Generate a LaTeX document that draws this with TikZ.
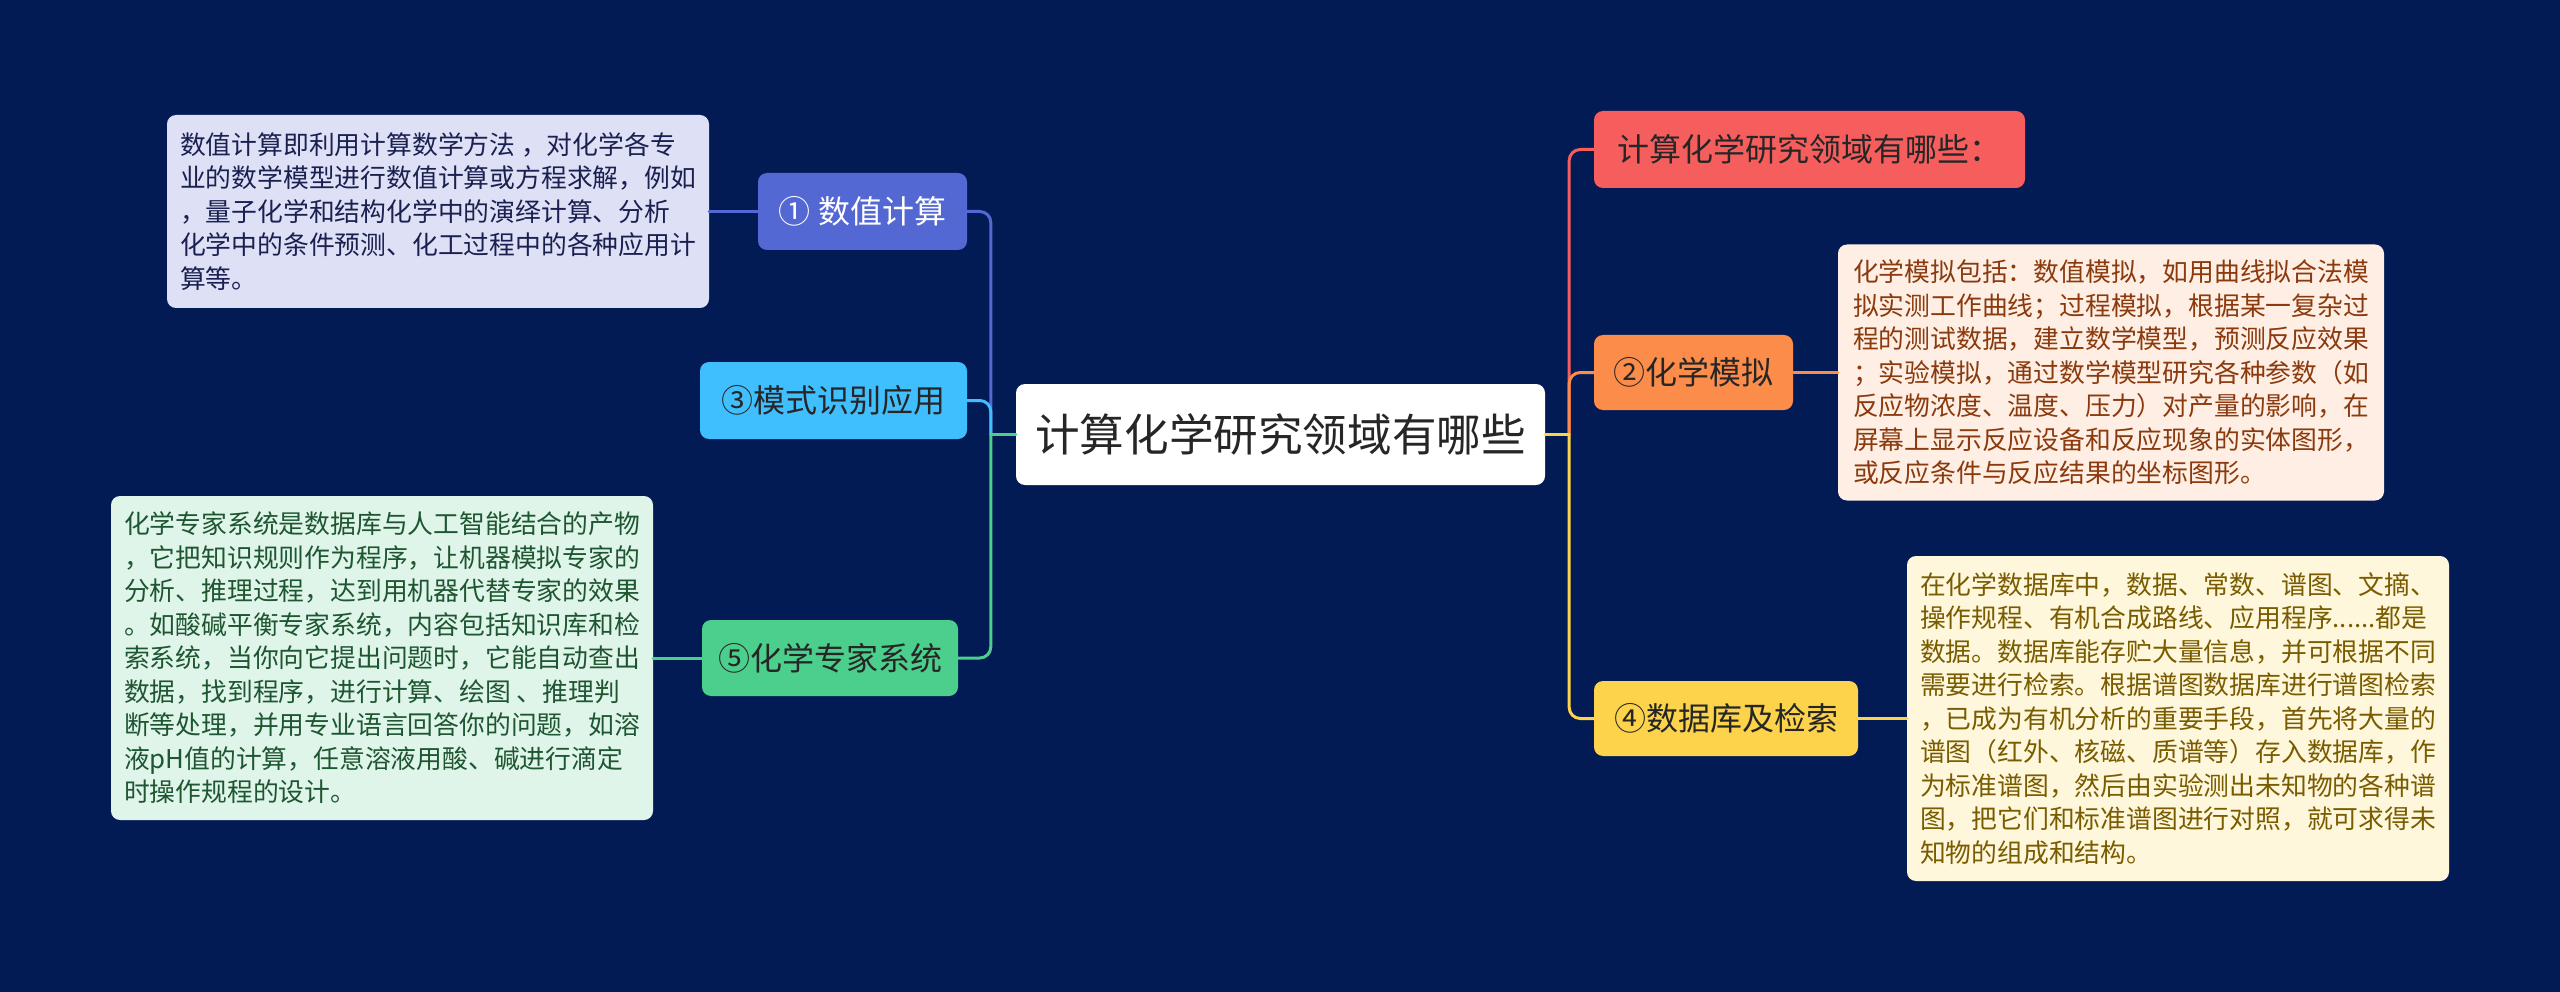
\documentclass[tikz,border=0pt]{standalone}
\usepackage{fontspec}
\setmainfont{Noto Sans CJK SC}
\definecolor{bg}{HTML}{021B55}
\definecolor{cblue}{HTML}{5468D4}
\definecolor{cblueL}{HTML}{DEE1F6}
\definecolor{cblueT}{HTML}{1A2050}
\definecolor{csky}{HTML}{40BFFF}
\definecolor{cgreen}{HTML}{4CCE8C}
\definecolor{cgreenL}{HTML}{E0F5EA}
\definecolor{cgreenT}{HTML}{1E5631}
\definecolor{cred}{HTML}{F65E5E}
\definecolor{corange}{HTML}{FC8C4A}
\definecolor{corangeL}{HTML}{FEEEE3}
\definecolor{corangeT}{HTML}{8B3A0E}
\definecolor{cyellow}{HTML}{FCD34B}
\definecolor{cyellowL}{HTML}{FEF7DB}
\definecolor{cyellowT}{HTML}{7A5C00}
\definecolor{darktext}{HTML}{262626}
\tikzset{
  box/.style={rounded corners=9pt, inner sep=0pt, align=left},
  topic/.style={box, font=\fontsize{32}{38}\selectfont, text=darktext},
  desc/.style={box, font=\fontsize{25.8}{33.5}\selectfont},
  link/.style={line width=3pt, rounded corners=11pt, line cap=round},
}
\begin{document}
\begin{tikzpicture}[x=1pt,y=-1pt]
\fill[bg] (0,0) rectangle (2560,992);
\useasboundingbox (0,0) rectangle (2560,992);

% central
\node[box, fill=white, text=darktext, font=\fontsize{44.6}{50}\selectfont,
  minimum width=529pt, minimum height=101pt] (c) at (1280.5,434.5) {计算化学研究领域有哪些};

% left topics
\node[topic, fill=cblue, text=white, minimum width=209pt, minimum height=77pt] (n1) at (862.5,211.5) {① 数值计算};
\node[topic, fill=csky, minimum width=267pt, minimum height=77pt] (n3) at (833.5,400.5) {③模式识别应用};
\node[topic, fill=cgreen, minimum width=256pt, minimum height=76pt] (n5) at (830,658) {⑤化学专家系统};

% right topics
\node[topic, fill=cred, minimum width=431pt, minimum height=77pt] (r0) at (1809.5,149.5) {计算化学研究领域有哪些：};
\node[topic, fill=corange, minimum width=199pt, minimum height=75pt] (n2) at (1693.5,372.5) {②化学模拟};
\node[topic, fill=cyellow, minimum width=264pt, minimum height=75pt] (n4) at (1726,718.5) {④数据库及检索};

% descriptions
\node[desc, fill=cblueL, text=cblueT, minimum width=542pt, minimum height=193pt] (d1) at (438,211.5) {数值计算即利用计算数学方法 ，对化学各专\\业的数学模型进行数值计算或方程求解，例如\\，量子化学和结构化学中的演绎计算、分析\\化学中的条件预测、化工过程中的各种应用计\\算等。};

\node[desc, fill=cgreenL, text=cgreenT, minimum width=542pt, minimum height=324pt] (d5) at (382,658) {化学专家系统是数据库与人工智能结合的产物\\，它把知识规则作为程序，让机器模拟专家的\\分析、推理过程，达到用机器代替专家的效果\\。如酸碱平衡专家系统，内容包括知识库和检\\索系统，当你向它提出问题时，它能自动查出\\数据，找到程序，进行计算、绘图 、推理判\\断等处理，并用专业语言回答你的问题，如溶\\液pH值的计算，任意溶液用酸、碱进行滴定\\时操作规程的设计。};

\node[desc, fill=corangeL, text=corangeT, minimum width=546pt, minimum height=256pt] (d2) at (2111,372.5) {化学模拟包括：数值模拟，如用曲线拟合法模\\拟实测工作曲线；过程模拟，根据某一复杂过\\程的测试数据，建立数学模型，预测反应效果\\；实验模拟，通过数学模型研究各种参数（如\\反应物浓度、温度、压力）对产量的影响，在\\屏幕上显示反应设备和反应现象的实体图形，\\或反应条件与反应结果的坐标图形。};

\node[desc, fill=cyellowL, text=cyellowT, minimum width=542pt, minimum height=325pt] (d4) at (2178,718.5) {在化学数据库中，数据、常数、谱图、文摘、\\操作规程、有机合成路线、应用程序......都是\\数据。数据库能存贮大量信息，并可根据不同\\需要进行检索。根据谱图数据库进行谱图检索\\，已成为有机分析的重要手段，首先将大量的\\谱图（红外、核磁、质谱等）存入数据库，作\\为标准谱图，然后由实验测出未知物的各种谱\\图，把它们和标准谱图进行对照，就可求得未\\知物的组成和结构。};

% junction points beside the central node
\coordinate (jl) at ([xshift=-25pt]c.west);
\coordinate (jr) at ([xshift=24pt]c.east);

% connectors: central to topics
\draw[link, cblue] (jl) |- (n1.east);
\draw[link, csky] (jl) |- (n3.east);
\draw[link, cgreen] (jl) |- (n5.east);
\draw[link, cgreen, sharp corners] (c.west) -- (jl);
\draw[link, cred] (jr) |- (r0.west);
\draw[link, corange] (jr) |- (n2.west);
\draw[link, cyellow] (jr) |- (n4.west);
\draw[link, cyellow, sharp corners] (c.east) -- (jr);

% connectors: topics to descriptions
\draw[link, cblue] (n1.west) -- (d1.east);
\draw[link, cgreen] (n5.west) -- (d5.east);
\draw[link, corange] (n2.east) -- (d2.west);
\draw[link, cyellow] (n4.east) -- (d4.west);
\end{tikzpicture}
\end{document}
